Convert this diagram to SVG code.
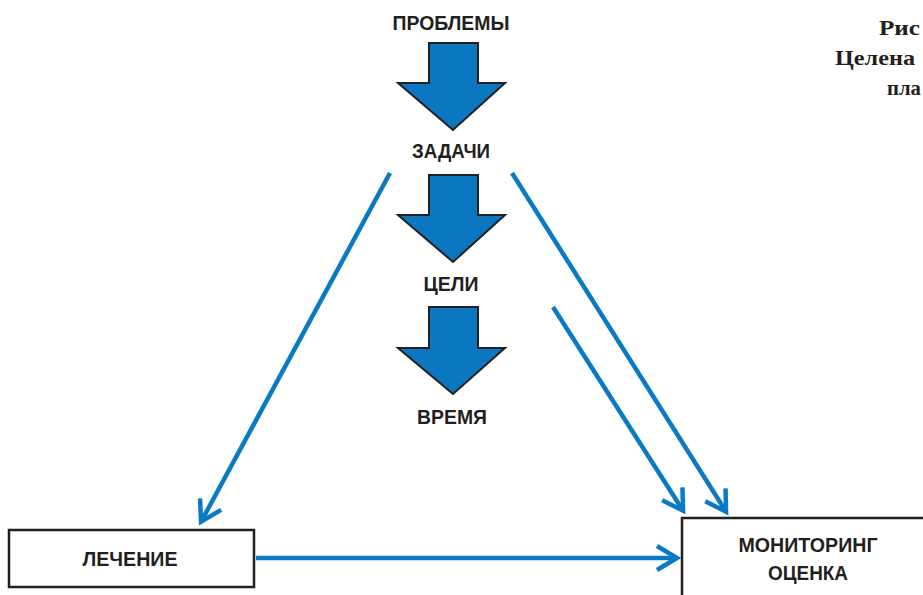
<svg xmlns="http://www.w3.org/2000/svg" width="923" height="595" viewBox="0 0 923 595">
<defs>
<style>
.lbl{font-family:"Liberation Sans Narrow","Liberation Sans",Arial,sans-serif;font-weight:bold;font-size:20px;fill:#231f20;text-anchor:middle}
.ttl{font-family:"Liberation Serif","Times New Roman",serif;font-weight:bold;font-size:22px;fill:#231f20}
.blk{fill:#0a77c0;stroke:#231f20;stroke-width:2;stroke-linejoin:miter}
.box{fill:#fff;stroke:#231f20;stroke-width:2.5}
.con{stroke:#0a7ac2;stroke-width:4.5;fill:none}
</style>
<marker id="ah" markerUnits="userSpaceOnUse" markerWidth="40" markerHeight="40" viewBox="-30 -20 40 40" refX="-2" refY="0" orient="auto" overflow="visible">
<path d="M-20,-12 L0,0 L-20,12" fill="none" stroke="#0a7ac2" stroke-width="4.5" stroke-linejoin="miter"/>
</marker>
</defs>
<rect width="923" height="595" fill="#fff"/>

<g id="title">
<text class="ttl" x="879" y="35" textLength="41" lengthAdjust="spacingAndGlyphs">Рис</text>
<text class="ttl" x="835" y="65" textLength="80" lengthAdjust="spacingAndGlyphs">Целена</text>
<text class="ttl" x="887" y="95" textLength="34" lengthAdjust="spacingAndGlyphs">пла</text>
</g>

<g id="problems">
<text class="lbl" x="451" y="30" textLength="117" lengthAdjust="spacingAndGlyphs">ПРОБЛЕМЫ</text>
</g>
<g id="arrow1">
<polygon class="blk" points="429,43 478,43 478,83 505,83 453,130 398,83 429,83"/>
</g>
<g id="tasks">
<text class="lbl" x="451" y="158" textLength="78" lengthAdjust="spacingAndGlyphs">ЗАДАЧИ</text>
</g>
<g id="arrow2">
<polygon class="blk" points="429,175 478,175 478,215 505,215 453,262 398,215 429,215"/>
</g>
<g id="goals">
<text class="lbl" x="451" y="291" textLength="55" lengthAdjust="spacingAndGlyphs">ЦЕЛИ</text>
</g>
<g id="arrow3">
<polygon class="blk" points="429,307 478,307 478,348 505,348 453,394 398,348 429,348"/>
</g>
<g id="time">
<text class="lbl" x="452" y="424" textLength="70" lengthAdjust="spacingAndGlyphs">ВРЕМЯ</text>
</g>

<g id="treatment">
<rect class="box" x="9" y="530" width="245" height="57"/>
<text class="lbl" x="130" y="566" textLength="95" lengthAdjust="spacingAndGlyphs">ЛЕЧЕНИЕ</text>
</g>
<g id="monitoring">
<rect class="box" x="682" y="518" width="260" height="100"/>
<text class="lbl" x="808" y="552" textLength="139" lengthAdjust="spacingAndGlyphs">МОНИТОРИНГ</text>
<text class="lbl" x="808" y="580" textLength="80" lengthAdjust="spacingAndGlyphs">ОЦЕНКА</text>
</g>

<g id="connectors">
<line class="con" x1="390" y1="173" x2="202" y2="520" marker-end="url(#ah)"/>
<line class="con" x1="512" y1="173" x2="725" y2="510" marker-end="url(#ah)"/>
<line class="con" x1="553" y1="307" x2="682" y2="509" marker-end="url(#ah)"/>
<line class="con" x1="256" y1="558" x2="675" y2="558" marker-end="url(#ah)"/>
</g>
</svg>
